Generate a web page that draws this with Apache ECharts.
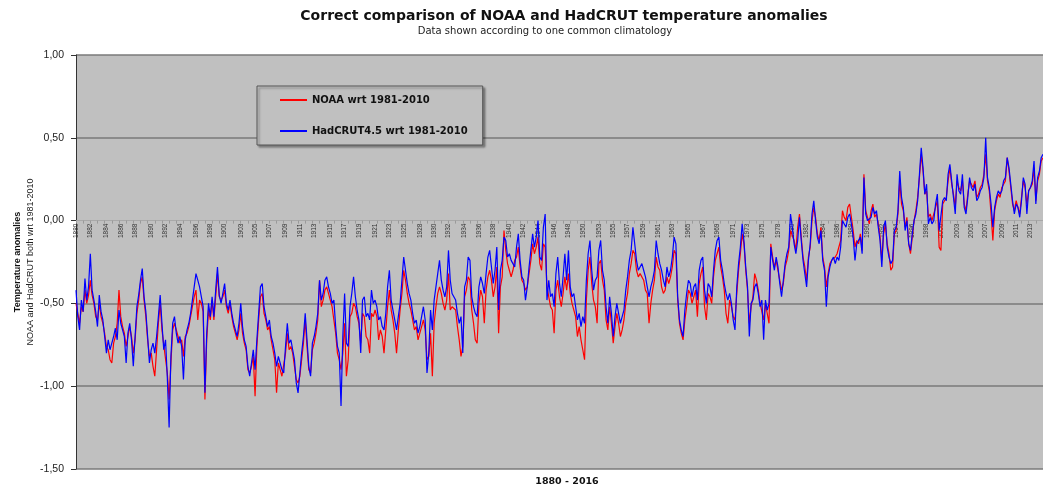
<!DOCTYPE html>
<html><head><meta charset="utf-8">
<script src="https://cdn.jsdelivr.net/npm/echarts@6/dist/echarts.min.js"></script>
<style>html,body{margin:0;padding:0;background:#fff}#c{width:1043px;height:488px}</style>
</head><body><div id="c"></div>
<script>
// Quarterly values, 1880 Q1 .. 2015 Q1 (one row per year)
const startYear = 1880;
const pointsPerYear = 4;
const noaa = [
-0.50,-0.56,-0.62,-0.52, -0.55,-0.42,-0.50,-0.45, -0.36,-0.45,-0.50,-0.58, -0.60,-0.50,-0.58,-0.62,
-0.68,-0.76,-0.78,-0.84, -0.86,-0.74,-0.70,-0.62, -0.42,-0.58,-0.64,-0.68, -0.76,-0.70,-0.64,-0.70,
-0.80,-0.72,-0.56,-0.48, -0.38,-0.34,-0.48,-0.58, -0.72,-0.82,-0.80,-0.88, -0.94,-0.78,-0.62,-0.50,
-0.66,-0.75,-0.76,-0.92, -1.08,-0.86,-0.66,-0.62, -0.66,-0.70,-0.74,-0.72, -0.82,-0.70,-0.68,-0.64,
-0.58,-0.52,-0.46,-0.42, -0.60,-0.48,-0.50,-0.55, -1.08,-0.72,-0.54,-0.60, -0.48,-0.60,-0.46,-0.32,
-0.46,-0.48,-0.46,-0.42, -0.52,-0.56,-0.50,-0.58, -0.64,-0.68,-0.72,-0.66, -0.56,-0.68,-0.74,-0.78,
-0.90,-0.92,-0.88,-0.82, -1.06,-0.76,-0.60,-0.46, -0.44,-0.56,-0.60,-0.66, -0.64,-0.72,-0.78,-0.84,
-1.04,-0.86,-0.90,-0.94, -0.94,-0.80,-0.68,-0.78, -0.76,-0.80,-0.88,-0.96, -0.98,-0.94,-0.84,-0.74,
-0.60,-0.76,-0.90,-0.92, -0.78,-0.74,-0.68,-0.60, -0.36,-0.52,-0.48,-0.42, -0.40,-0.44,-0.48,-0.52,
-0.52,-0.68,-0.80,-0.84, -0.90,-0.80,-0.62,-0.94, -0.84,-0.58,-0.56,-0.50, -0.52,-0.58,-0.62,-0.74,
-0.56,-0.58,-0.70,-0.72, -0.80,-0.56,-0.58,-0.54, -0.58,-0.72,-0.66,-0.70, -0.80,-0.66,-0.52,-0.42,
-0.54,-0.60,-0.68,-0.80, -0.66,-0.54,-0.44,-0.30, -0.36,-0.44,-0.50,-0.54, -0.60,-0.66,-0.64,-0.72,
-0.68,-0.64,-0.60,-0.66, -0.84,-0.82,-0.68,-0.94, -0.62,-0.52,-0.44,-0.40, -0.44,-0.50,-0.54,-0.48,
-0.32,-0.54,-0.52,-0.52, -0.54,-0.64,-0.72,-0.82, -0.76,-0.46,-0.42,-0.34, -0.36,-0.54,-0.62,-0.72,
-0.74,-0.50,-0.42,-0.46, -0.62,-0.42,-0.34,-0.30, -0.36,-0.46,-0.40,-0.28, -0.68,-0.40,-0.34,-0.06,
-0.18,-0.26,-0.30,-0.34, -0.30,-0.24,-0.22,-0.16, -0.28,-0.36,-0.38,-0.42, -0.40,-0.32,-0.24,-0.14,
-0.20,-0.16,-0.10,-0.26, -0.30,-0.14,-0.16,-0.40, -0.40,-0.52,-0.54,-0.68, -0.42,-0.36,-0.46,-0.52,
-0.44,-0.34,-0.42,-0.32, -0.44,-0.50,-0.50,-0.58, -0.70,-0.64,-0.72,-0.78, -0.84,-0.48,-0.30,-0.22,
-0.38,-0.48,-0.52,-0.62, -0.26,-0.24,-0.36,-0.42, -0.60,-0.66,-0.52,-0.62, -0.74,-0.64,-0.56,-0.62,
-0.70,-0.66,-0.60,-0.50, -0.44,-0.32,-0.26,-0.18, -0.20,-0.30,-0.34,-0.32, -0.32,-0.36,-0.42,-0.44,
-0.62,-0.50,-0.42,-0.36, -0.22,-0.28,-0.30,-0.40, -0.44,-0.42,-0.34,-0.38, -0.34,-0.28,-0.18,-0.20,
-0.48,-0.62,-0.68,-0.72, -0.60,-0.52,-0.42,-0.44, -0.50,-0.46,-0.42,-0.58, -0.38,-0.32,-0.28,-0.52,
-0.60,-0.44,-0.46,-0.50, -0.34,-0.24,-0.20,-0.16, -0.28,-0.34,-0.42,-0.56, -0.62,-0.48,-0.52,-0.58,
-0.60,-0.44,-0.30,-0.20, -0.08,-0.14,-0.30,-0.42, -0.62,-0.52,-0.46,-0.32, -0.36,-0.42,-0.50,-0.50,
-0.60,-0.50,-0.56,-0.62, -0.14,-0.22,-0.28,-0.24, -0.30,-0.36,-0.42,-0.38, -0.28,-0.24,-0.18,-0.06,
-0.06,-0.12,-0.18,-0.04, 0.04,-0.10,-0.22,-0.28, -0.36,-0.22,-0.16,0.00, 0.08,0.02,-0.08,-0.12,
-0.04,-0.22,-0.28,-0.40, -0.32,-0.26,-0.24,-0.24, -0.22,-0.20,-0.20,-0.12, 0.06,0.02,0.00,0.08,
0.10,0.02,-0.06,-0.16, -0.12,-0.14,-0.08,-0.18, 0.28,0.06,0.02,-0.02, 0.06,0.10,0.02,0.04,
-0.02,-0.10,-0.24,-0.08, -0.02,-0.14,-0.20,-0.30, -0.28,-0.08,-0.06,0.04, 0.24,0.10,0.06,-0.04,
0.02,-0.14,-0.20,-0.10, 0.00,0.06,0.14,0.26, 0.40,0.30,0.16,0.18, 0.02,0.04,0.00,0.00,
0.08,0.12,-0.16,-0.18, 0.10,0.12,0.14,0.24, 0.32,0.22,0.16,0.08, 0.24,0.20,0.18,0.24,
0.10,0.06,0.16,0.24, 0.22,0.20,0.24,0.14, 0.16,0.20,0.22,0.28, 0.40,0.24,0.18,0.04,
-0.12,0.06,0.12,0.16, 0.14,0.20,0.22,0.24, 0.38,0.30,0.20,0.10, 0.06,0.12,0.08,0.04,
0.14,0.24,0.20,0.10, 0.18,0.20,0.22,0.32, 0.12,0.24,0.28,0.36,
0.38
];
const hadcrut = [
-0.42,-0.58,-0.66,-0.48, -0.55,-0.35,-0.48,-0.40, -0.20,-0.42,-0.48,-0.55, -0.64,-0.45,-0.55,-0.60,
-0.70,-0.80,-0.72,-0.78, -0.74,-0.70,-0.65,-0.72, -0.54,-0.62,-0.66,-0.70, -0.86,-0.68,-0.62,-0.72,
-0.88,-0.70,-0.52,-0.45, -0.36,-0.29,-0.46,-0.55, -0.70,-0.86,-0.78,-0.74, -0.80,-0.70,-0.58,-0.45,
-0.62,-0.78,-0.72,-0.95, -1.25,-0.82,-0.62,-0.58, -0.68,-0.74,-0.70,-0.76, -0.96,-0.72,-0.66,-0.62,
-0.56,-0.48,-0.40,-0.32, -0.36,-0.40,-0.46,-0.52, -1.04,-0.68,-0.50,-0.58, -0.46,-0.58,-0.42,-0.28,
-0.45,-0.50,-0.44,-0.38, -0.50,-0.54,-0.48,-0.56, -0.62,-0.66,-0.70,-0.62, -0.50,-0.64,-0.72,-0.76,
-0.88,-0.94,-0.86,-0.78, -0.90,-0.72,-0.56,-0.40, -0.38,-0.52,-0.58,-0.64, -0.60,-0.70,-0.74,-0.80,
-0.88,-0.82,-0.86,-0.90, -0.92,-0.76,-0.62,-0.74, -0.72,-0.78,-0.84,-0.98, -1.04,-0.92,-0.80,-0.70,
-0.56,-0.72,-0.88,-0.94, -0.74,-0.70,-0.64,-0.56, -0.36,-0.48,-0.44,-0.36, -0.34,-0.40,-0.44,-0.50,
-0.48,-0.64,-0.76,-0.80, -1.12,-0.70,-0.44,-0.74, -0.76,-0.52,-0.44,-0.34, -0.46,-0.54,-0.60,-0.80,
-0.48,-0.46,-0.58,-0.56, -0.60,-0.42,-0.50,-0.48, -0.52,-0.60,-0.58,-0.64, -0.66,-0.56,-0.40,-0.30,
-0.48,-0.54,-0.60,-0.66, -0.58,-0.50,-0.36,-0.22, -0.30,-0.38,-0.44,-0.48, -0.56,-0.62,-0.60,-0.68,
-0.64,-0.58,-0.52,-0.60, -0.92,-0.80,-0.54,-0.66, -0.48,-0.40,-0.32,-0.24, -0.36,-0.42,-0.46,-0.40,
-0.18,-0.36,-0.44,-0.46, -0.48,-0.56,-0.62,-0.58, -0.80,-0.40,-0.36,-0.22, -0.24,-0.46,-0.52,-0.56,
-0.58,-0.40,-0.34,-0.38, -0.44,-0.32,-0.22,-0.18, -0.28,-0.38,-0.30,-0.16, -0.54,-0.30,-0.24,-0.10,
-0.12,-0.22,-0.20,-0.24, -0.26,-0.28,-0.16,-0.08, -0.24,-0.34,-0.36,-0.48, -0.40,-0.28,-0.18,-0.08,
-0.16,-0.10,0.00,-0.22, -0.24,-0.04,0.04,-0.48, -0.36,-0.46,-0.44,-0.52, -0.32,-0.22,-0.38,-0.46,
-0.34,-0.20,-0.36,-0.18, -0.40,-0.46,-0.44,-0.52, -0.60,-0.56,-0.64,-0.58, -0.62,-0.36,-0.20,-0.12,
-0.30,-0.42,-0.36,-0.34, -0.18,-0.12,-0.30,-0.36, -0.52,-0.62,-0.46,-0.56, -0.70,-0.58,-0.50,-0.56,
-0.62,-0.58,-0.54,-0.42, -0.34,-0.24,-0.18,-0.04, -0.14,-0.24,-0.30,-0.28, -0.26,-0.30,-0.34,-0.40,
-0.46,-0.40,-0.36,-0.30, -0.12,-0.20,-0.26,-0.30, -0.36,-0.40,-0.28,-0.34, -0.30,-0.22,-0.10,-0.14,
-0.46,-0.60,-0.66,-0.70, -0.54,-0.44,-0.36,-0.38, -0.46,-0.40,-0.38,-0.48, -0.30,-0.24,-0.22,-0.42,
-0.50,-0.38,-0.40,-0.46, -0.30,-0.18,-0.12,-0.10, -0.24,-0.30,-0.38,-0.44, -0.48,-0.44,-0.50,-0.60,
-0.66,-0.40,-0.26,-0.16, -0.02,-0.12,-0.28,-0.40, -0.70,-0.50,-0.48,-0.40, -0.38,-0.44,-0.52,-0.48,
-0.72,-0.48,-0.54,-0.50, -0.16,-0.24,-0.30,-0.22, -0.28,-0.38,-0.46,-0.36, -0.26,-0.20,-0.16,0.04,
-0.04,-0.14,-0.20,-0.12, 0.02,-0.12,-0.24,-0.32, -0.40,-0.24,-0.14,0.04, 0.12,0.00,-0.10,-0.14,
-0.06,-0.24,-0.30,-0.52, -0.34,-0.28,-0.24,-0.22, -0.26,-0.22,-0.24,-0.16, 0.00,-0.02,-0.04,0.02,
0.04,-0.02,-0.10,-0.24, -0.14,-0.12,-0.10,-0.20, 0.26,0.04,0.00,0.00, 0.02,0.08,0.04,0.06,
-0.04,-0.12,-0.28,-0.04, 0.00,-0.16,-0.22,-0.26, -0.24,-0.06,-0.04,0.06, 0.30,0.14,0.08,-0.06,
0.00,-0.14,-0.18,-0.08, 0.00,0.04,0.12,0.28, 0.44,0.32,0.16,0.22, -0.02,0.02,-0.02,0.00,
0.10,0.16,-0.06,-0.06, 0.12,0.14,0.12,0.28, 0.34,0.24,0.14,0.04, 0.28,0.18,0.16,0.28,
0.08,0.04,0.14,0.26, 0.20,0.18,0.22,0.12, 0.14,0.18,0.20,0.26, 0.50,0.26,0.20,0.10,
-0.04,0.08,0.14,0.18, 0.16,0.18,0.24,0.26, 0.38,0.32,0.22,0.12, 0.04,0.10,0.08,0.02,
0.12,0.26,0.22,0.04, 0.18,0.20,0.24,0.36, 0.10,0.26,0.30,0.38,
0.40
];
const seriesNames = ['NOAA wrt 1981-2010', 'HadCRUT4.5 wrt 1981-2010'];
const yTicks = { min: -1.5, max: 1.0, step: 0.5 };
const categories = noaa.map((_, i) => String(startYear + Math.floor(i / pointsPerYear)));

// Excel-style category labels: one label every 25 months
function showLabel(i) { const k = Math.round(i * 3 / 25); return Math.round(k * 25 / 3) === i; }

const W = 1043, H = 488;
const GRID = { left: 76, right: 0, top: 55, bottom: 19 };
const plotH = H - GRID.top - GRID.bottom;
// the category axis sits on the zero line
const zeroOffset = -plotH * (0 - yTicks.min) / (yTicks.max - yTicks.min);

const chart = echarts.init(document.getElementById('c'), null, { renderer: 'canvas' });
const SANS = 'Liberation Sans, Arial, sans-serif';
const WIDE = 'DejaVu Sans, Verdana, sans-serif';
chart.setOption({
  animation: false,
  backgroundColor: '#ffffff',
  textStyle: { fontFamily: SANS },
  grid: Object.assign({ show: true, backgroundColor: '#c0c0c0', borderWidth: 0 }, GRID),
  legend: {
    data: seriesNames,
    orient: 'vertical',
    left: 257, top: 86,
    padding: [9, 15, 9, 23],
    itemGap: 21,
    itemWidth: 27, itemHeight: 2,
    icon: 'rect',
    backgroundColor: '#c0c0c0',
    borderColor: '#555555', borderWidth: 1,
    shadowColor: 'rgba(0,0,0,0.35)', shadowOffsetX: 2, shadowOffsetY: 2, shadowBlur: 2,
    textStyle: { fontSize: 10, fontWeight: 'bold', color: '#111', fontFamily: WIDE }
  },
  xAxis: {
    type: 'category',
    data: categories,
    boundaryGap: false,
    position: 'bottom',
    offset: zeroOffset,
    axisLine: { onZero: false, lineStyle: { color: '#a8a8a8', width: 1 } },
    axisTick: { show: true, interval: (i) => i % 4 === 0, length: 3, lineStyle: { color: '#9a9a9a' } },
    axisLabel: { interval: showLabel, rotate: 90, fontSize: 6.5, color: '#333', margin: 3, fontFamily: SANS },
    splitLine: { show: false }
  },
  yAxis: {
    type: 'value',
    min: yTicks.min, max: yTicks.max, interval: yTicks.step,
    axisLine: { show: true, lineStyle: { color: '#333', width: 1 } },
    axisTick: { show: true, length: 5, lineStyle: { color: '#333' } },
    axisLabel: { fontSize: 10.5, color: '#222', margin: 12, fontFamily: SANS,
      formatter: (v) => v.toFixed(2).replace('.', ',') },
    splitLine: { show: true, lineStyle: { color: ['#7a7a7a','#7a7a7a','#7a7a7a','rgba(0,0,0,0)','#7a7a7a','#7a7a7a'], width: 1.5 } }
  },
  graphic: [
    { type: 'text', x: 564, y: 16, style: { text: 'Correct comparison of NOAA and HadCRUT temperature anomalies',
      textAlign: 'center', textVerticalAlign: 'middle', align: 'center', verticalAlign: 'middle',
      font: 'bold 14px DejaVu Sans, Verdana, sans-serif', fill: '#111' } },
    { type: 'text', x: 545, y: 31, style: { text: 'Data shown according to one common climatology',
      textAlign: 'center', textVerticalAlign: 'middle', align: 'center', verticalAlign: 'middle',
      font: '10px DejaVu Sans, Verdana, sans-serif', fill: '#222' } },
    { type: 'text', x: 567, y: 482, style: { text: '1880 - 2016',
      textAlign: 'center', textVerticalAlign: 'middle', align: 'center', verticalAlign: 'middle',
      font: 'bold 9.5px DejaVu Sans, Verdana, sans-serif', fill: '#111' } },
    { type: 'text', x: 18, y: 262, rotation: Math.PI / 2, style: { text: 'Temperature anomalies',
      textAlign: 'center', textVerticalAlign: 'middle', align: 'center', verticalAlign: 'middle',
      font: 'bold 9px Liberation Sans, Arial, sans-serif', fill: '#111' } },
    { type: 'text', x: 31, y: 262, rotation: Math.PI / 2, style: { text: 'NOAA and HadCRUT both wrt 1981-2010',
      textAlign: 'center', textVerticalAlign: 'middle', align: 'center', verticalAlign: 'middle',
      font: '9px Liberation Sans, Arial, sans-serif', fill: '#222' } }
  ],
  series: [
    { name: seriesNames[0], type: 'line', data: noaa, showSymbol: false, symbol: 'none',
      lineStyle: { color: '#ff0000', width: 1.2 }, itemStyle: { color: '#ff0000' }, z: 2 },
    { name: seriesNames[1], type: 'line', data: hadcrut, showSymbol: false, symbol: 'none',
      lineStyle: { color: '#0000ff', width: 1.2 }, itemStyle: { color: '#0000ff' }, z: 3 }
  ]
});
</script>
</body></html>
